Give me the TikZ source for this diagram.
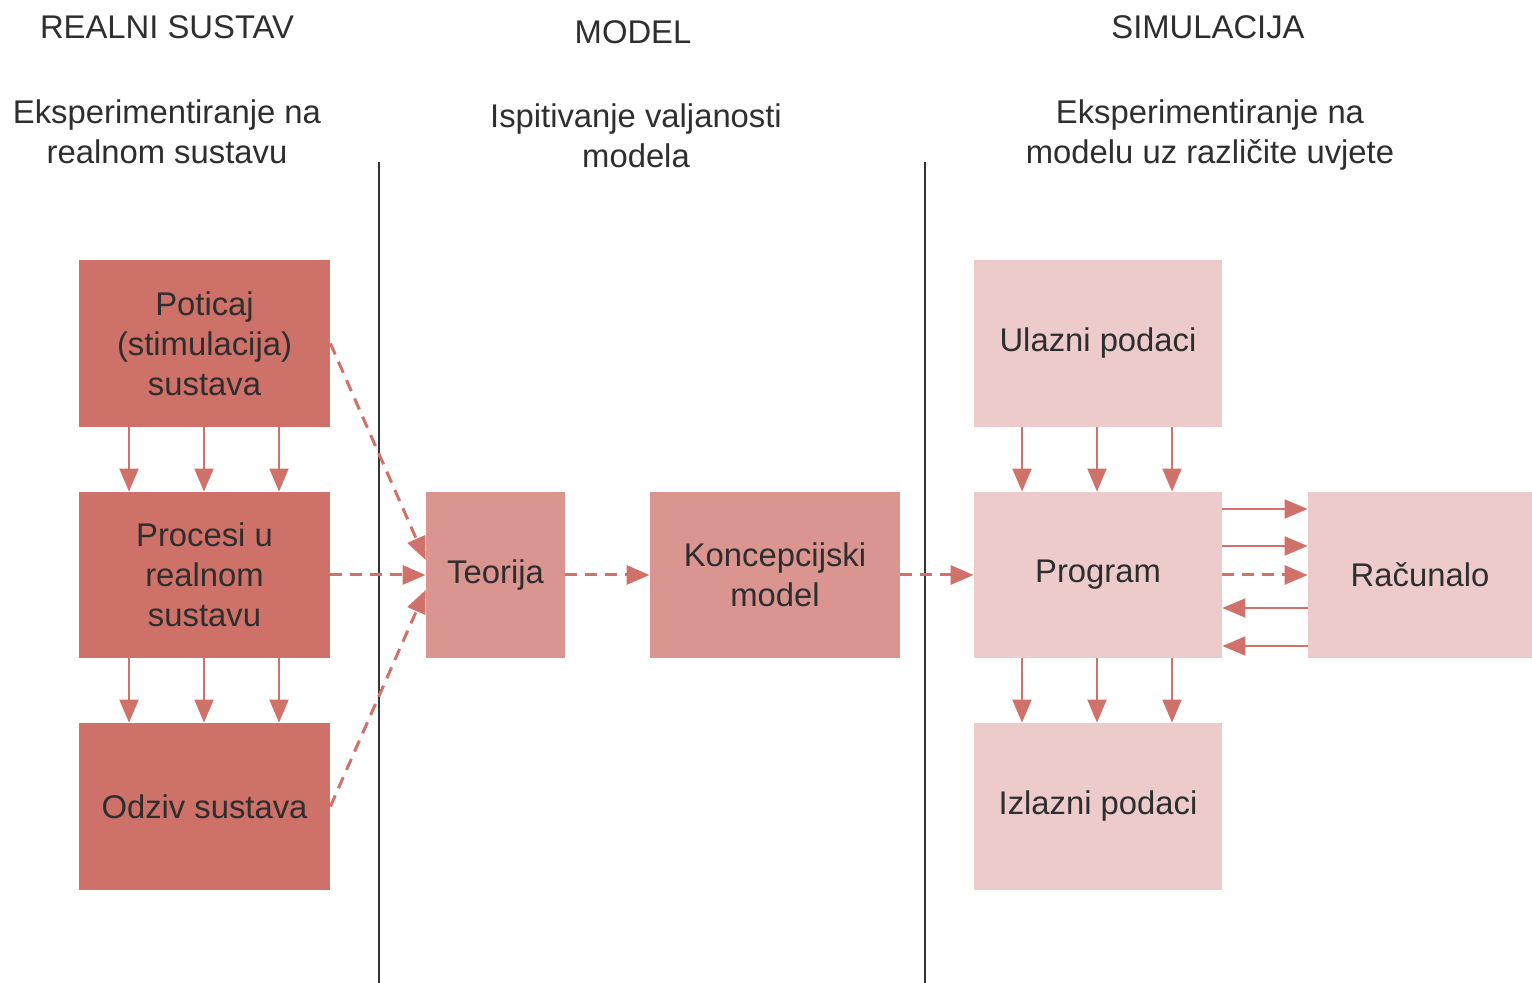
\documentclass[tikz,border=0pt]{standalone}
\usepackage{fontspec}
\setmainfont{Liberation Sans}
\usetikzlibrary{arrows.meta}
\definecolor{boxdark}{HTML}{CD7169}
\definecolor{boxmid}{HTML}{DA9590}
\definecolor{boxlight}{HTML}{EDCBCA}
\definecolor{arrowred}{HTML}{D0716A}
\definecolor{inktext}{HTML}{2E2E2E}
\begin{document}
\begin{tikzpicture}[x=0.5pt,y=-0.5pt,
  txt/.style={font=\fontsize{16.4}{20}\selectfont, text=inktext, align=center, inner sep=0pt},
  blk/.style={txt, draw=none, minimum width=125pt, minimum height=83.5pt},
  darkblk/.style={blk, fill=boxdark},
  lightblk/.style={blk, fill=boxlight},
  flow/.style={draw=arrowred, line width=1pt, -{Triangle[length=11.5pt,width=9.5pt]}},
  dflow/.style={draw=arrowred, line width=1.5pt, dash pattern=on 6pt off 4pt, -{Triangle[length=11.5pt,width=9.5pt]}},
  divider/.style={draw=black!80, line width=1pt}]
\useasboundingbox (0,0) rectangle (1532,983);

% column headings
\node[txt] (h1) at (167,27) {REALNI SUSTAV};
\node[txt] (h2) at (633,32) {MODEL};
\node[txt] (h3) at (1208,27) {SIMULACIJA};
\node[txt] (s1) at (167,132) {Eksperimentiranje na\\realnom sustavu};
\node[txt] (s2) at (636,136) {Ispitivanje valjanosti\\modela};
\node[txt] (s3) at (1210,135) {Eksperimentiranje na\\modelu uz različite uvjete};

% column dividers
\draw[divider] (379,162) -- (379,983);
\draw[divider] (925,162) -- (925,983);

% real system
\node[darkblk, minimum width=125.5pt] (pot) at (204.5,343.5) {Poticaj\\(stimulacija)\\sustava};
\node[darkblk, minimum width=125.5pt, minimum height=83pt] (proc) at (204.5,575) {Procesi u\\realnom\\sustavu};
\node[darkblk, minimum width=125.5pt] (odz) at (204.5,806.5) {Odziv sustava};

% model
\node[blk, fill=boxmid, minimum width=69.5pt, minimum height=83pt] (teo) at (495.5,575) {Teorija};
\node[blk, fill=boxmid, minimum height=83pt] (kon) at (775,575) {Koncepcijski\\model};

% simulation
\node[lightblk, minimum width=124pt] (ul) at (1098,343.5) {Ulazni podaci};
\node[lightblk, minimum width=124pt, minimum height=83pt] (prog) at (1098,575) {Program};
\node[lightblk, minimum width=124pt] (izl) at (1098,806.5) {Izlazni podaci};
\node[lightblk, minimum width=112pt, minimum height=83pt] (rac) at (1420,575) {Računalo};

% vertical flows
\foreach \x in {129,204,279} {
  \draw[flow] (pot.south -| \x,0) -- (proc.north -| \x,0);
  \draw[flow] (proc.south -| \x,0) -- (odz.north -| \x,0);
}
\foreach \x in {1022,1097,1172} {
  \draw[flow] (ul.south -| \x,0) -- (prog.north -| \x,0);
  \draw[flow] (prog.south -| \x,0) -- (izl.north -| \x,0);
}

% program <-> computer
\draw[flow] (prog.east |- 0,509) -- (rac.west |- 0,509);
\draw[flow] (prog.east |- 0,546) -- (rac.west |- 0,546);
\draw[dflow] (prog.east |- 0,575) -- (rac.west |- 0,575);
\draw[flow] (rac.west |- 0,608) -- (prog.east |- 0,608);
\draw[flow] (rac.west |- 0,646) -- (prog.east |- 0,646);

% model building
\draw[dflow] (pot.east) -- (teo.west |- 0,560);
\draw[dflow] (proc.east) -- (teo.west);
\draw[dflow] (odz.east) -- (teo.west |- 0,590);
\draw[dflow] (teo.east) -- (kon.west);
\draw[dflow] (kon.east) -- (prog.west);
\end{tikzpicture}
\end{document}
